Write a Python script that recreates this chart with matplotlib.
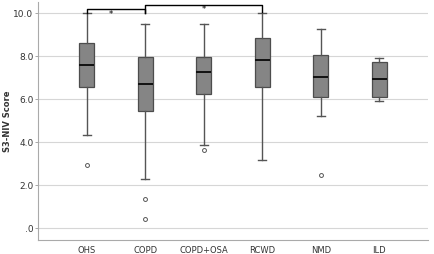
import numpy as np
import matplotlib.pyplot as plt

groups = ['OHS', 'COPD', 'COPD+OSA', 'RCWD', 'NMD', 'ILD']
whislo = [4.33, 2.28, 3.86, 3.19, 5.23, 5.91]
q1 = [6.59, 5.46, 6.25, 6.58, 6.11, 6.11]
med = [7.62, 6.70, 7.28, 7.84, 7.04, 6.94]
q3 = [8.63, 7.96, 7.96, 8.86, 8.08, 7.73]
whishi = [10.0, 9.53, 9.53, 10.0, 9.29, 7.94]
fliers = [[2.96], [1.36, 0.45], [3.63], [], [2.50], []]

yticks = [0, 2, 4, 6, 8, 10]
yticklabels = ['.0', '2.0', '4.0', '6.0', '8.0', '10.0']

stats = []
for i in range(len(groups)):
    stats.append({'label': groups[i], 'whislo': whislo[i], 'q1': q1[i], 'med': med[i],
                  'q3': q3[i], 'whishi': whishi[i], 'fliers': fliers[i]})

fig = plt.figure(figsize=(4.34, 2.54), dpi=100)
ax = fig.add_axes([0.0869, 0.0551, 0.8991, 0.937])

ax.bxp(stats, positions=range(1, 7), widths=0.26, patch_artist=True,
       boxprops=dict(facecolor='#858585', edgecolor='#4d4d4d', linewidth=0.9),
       medianprops=dict(color='#111111', linewidth=1.4),
       whiskerprops=dict(color='#555555', linewidth=1.0),
       capprops=dict(color='#555555', linewidth=1.0),
       capwidths=0.14,
       flierprops=dict(marker='o', markersize=2.8, markerfacecolor='white',
                       markeredgecolor='#555555', markeredgewidth=0.7))

ax.set_xlim(0.163, 6.83)
ax.set_ylim(-0.545, 10.535)
ax.set_yticks(yticks)
ax.set_yticklabels(yticklabels)
ax.yaxis.grid(True, color='#d6d6d6', linewidth=0.8)
ax.set_axisbelow(True)

for s in ['top', 'right']:
    ax.spines[s].set_visible(False)
for s in ['left', 'bottom']:
    ax.spines[s].set_color('#aaaaaa')
    ax.spines[s].set_linewidth(0.8)

ax.tick_params(axis='y', length=2, width=0.6, color='#999999', labelsize=6.5, labelcolor='#333333', pad=1)
ax.tick_params(axis='x', length=0, labelsize=6, labelcolor='#333333', pad=4)
ax.set_ylabel('S3-NIV Score', fontsize=6, fontweight='bold', color='#333333', va='center')
ax.yaxis.set_label_coords(-0.078, 0.5)

# significance brackets
ax.plot([1, 1, 2, 2], [10.0, 10.2, 10.2, 10.0], color='black', lw=1.0, clip_on=False)
ax.plot([2, 2, 4, 4], [10.0, 10.4, 10.4, 10.05], color='black', lw=1.0, clip_on=False)
ax.text(1.42, 9.96, '*', fontsize=6, ha='center', va='center')
ax.text(3.0, 10.17, '*', fontsize=6, ha='center', va='center')

fig.savefig('out.png', dpi=100)
